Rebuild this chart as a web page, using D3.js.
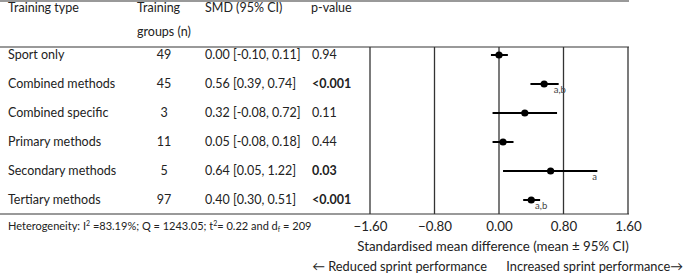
<!DOCTYPE html>
<html>
<head>
<meta charset="utf-8">
<script src="https://cdn.jsdelivr.net/npm/d3@7"></script>
<style>
  body { margin: 0; background: #fff; }
  svg text { font-family: Lato, "Open Sans", sans-serif; fill: #222; }
</style>
</head>
<body>
<div id="chart"></div>
<script>
// Data
const trainingTypes = ["Sport only", "Combined methods", "Combined specific", "Primary methods", "Secondary methods", "Tertiary methods"];
const groupsN = [49, 45, 3, 11, 5, 97];
const smd = [0.00, 0.56, 0.32, 0.05, 0.64, 0.40];
const ciLow = [-0.10, 0.39, -0.08, -0.08, 0.05, 0.30];
const ciHigh = [0.11, 0.74, 0.72, 0.18, 1.22, 0.51];
const pValues = ["0.94", "<0.001", "0.11", "0.44", "0.03", "<0.001"];
const pBold = [false, true, false, false, true, true];
const notes = ["", "a,b", "", "", "a", "a,b"];
const tickValues = [-1.6, -0.8, 0, 0.8, 1.6];

const width = 685, height = 275;

const svg = d3.select("#chart").append("svg")
    .attr("width", width)
    .attr("height", height);

// Scales
const x = d3.scaleLinear().domain([-1.6, 1.6]).range([370, 628]);
const y = d3.scalePoint().domain(trainingTypes).range([55, 200]);

const tableTop = 47, tableBottom = 214;

// Header
const header = svg.append("g").style("font-size", "12.5px");
header.append("text").attr("x", 8).attr("y", 12).text("Training type");
header.append("text").attr("x", 137).attr("y", 12).text("Training");
header.append("text").attr("x", 137).attr("y", 36).text("groups (n)");
header.append("text").attr("x", 205).attr("y", 12).text("SMD (95% CI)");
header.append("text").attr("x", 311).attr("y", 12).text("p-value");

// Horizontal table rules
[1, tableTop, tableBottom].forEach(yy => {
    svg.append("line")
        .attr("x1", 0).attr("x2", 629)
        .attr("y1", yy).attr("y2", yy)
        .attr("stroke", "#777").attr("stroke-width", 1.3);
});

// Vertical reference lines
svg.append("g").selectAll("line")
    .data(tickValues)
    .enter().append("line")
    .attr("x1", d => x(d)).attr("x2", d => x(d))
    .attr("y1", tableTop).attr("y2", tableBottom)
    .attr("stroke", "#333").attr("stroke-width", 1.3);

// Table rows
const rows = svg.append("g").style("font-size", "12.5px")
    .selectAll("g")
    .data(trainingTypes)
    .enter().append("g")
    .attr("transform", d => `translate(0,${y(d) + 4})`);

rows.append("text").attr("x", 8).text(d => d);
rows.append("text").attr("x", 164).attr("text-anchor", "middle").text((d, i) => groupsN[i]);
rows.append("text").attr("x", 205)
    .text((d, i) => `${smd[i].toFixed(2)} [${ciLow[i].toFixed(2)}, ${ciHigh[i].toFixed(2)}]`);
rows.append("text").attr("x", 312)
    .style("font-weight", (d, i) => pBold[i] ? "bold" : "normal")
    .text((d, i) => pValues[i]);

// Forest plot marks
const marks = svg.append("g").selectAll("g")
    .data(trainingTypes)
    .enter().append("g");

marks.append("line")
    .attr("x1", (d, i) => x(ciLow[i]))
    .attr("x2", (d, i) => x(ciHigh[i]))
    .attr("y1", d => y(d)).attr("y2", d => y(d))
    .attr("stroke", "#000").attr("stroke-width", 2);

marks.append("circle")
    .attr("cx", (d, i) => x(smd[i]))
    .attr("cy", d => y(d))
    .attr("r", 3.6)
    .attr("fill", "#000");

marks.append("text")
    .attr("x", (d, i) => x(ciHigh[i]) - 5)
    .attr("y", d => y(d) + 9)
    .style("font-size", "9.5px")
    .style("fill", "#444")
    .text((d, i) => notes[i]);

// Axis
const axis = svg.append("g")
    .attr("transform", `translate(0,${tableBottom})`)
    .call(d3.axisBottom(x).tickValues(tickValues).tickSize(0).tickPadding(8).tickFormat(d3.format(".2f")));
axis.select(".domain").remove();
axis.selectAll("text")
    .style("font-family", "Lato, 'Open Sans', sans-serif")
    .style("font-size", "13.3px")
    .style("fill", "#222");

svg.append("text")
    .attr("x", 493).attr("y", 251)
    .attr("text-anchor", "middle")
    .style("font-size", "13.3px")
    .text("Standardised mean difference (mean \u00b1 95% CI)");

svg.append("text")
    .attr("x", 487).attr("y", 271)
    .attr("text-anchor", "end")
    .style("font-size", "12.8px")
    .text("\u2190 Reduced sprint performance");

svg.append("text")
    .attr("x", 683).attr("y", 271)
    .attr("text-anchor", "end")
    .style("font-size", "12.8px")
    .text("Increased sprint performance\u2192");

// Heterogeneity line
const het = svg.append("text")
    .attr("x", 8).attr("y", 230)
    .style("font-size", "11px");
het.append("tspan").text("Heterogeneity: I");
het.append("tspan").attr("dy", -4).style("font-size", "7px").text("2");
het.append("tspan").attr("dy", 4).text(" =83.19%; Q = 1243.05; t");
het.append("tspan").attr("dy", -4).style("font-size", "7px").text("2");
het.append("tspan").attr("dy", 4).text("= 0.22 and d");
het.append("tspan").attr("dy", 2).style("font-size", "7px").text("f");
het.append("tspan").attr("dy", -2).text(" = 209");
</script>
</body>
</html>
